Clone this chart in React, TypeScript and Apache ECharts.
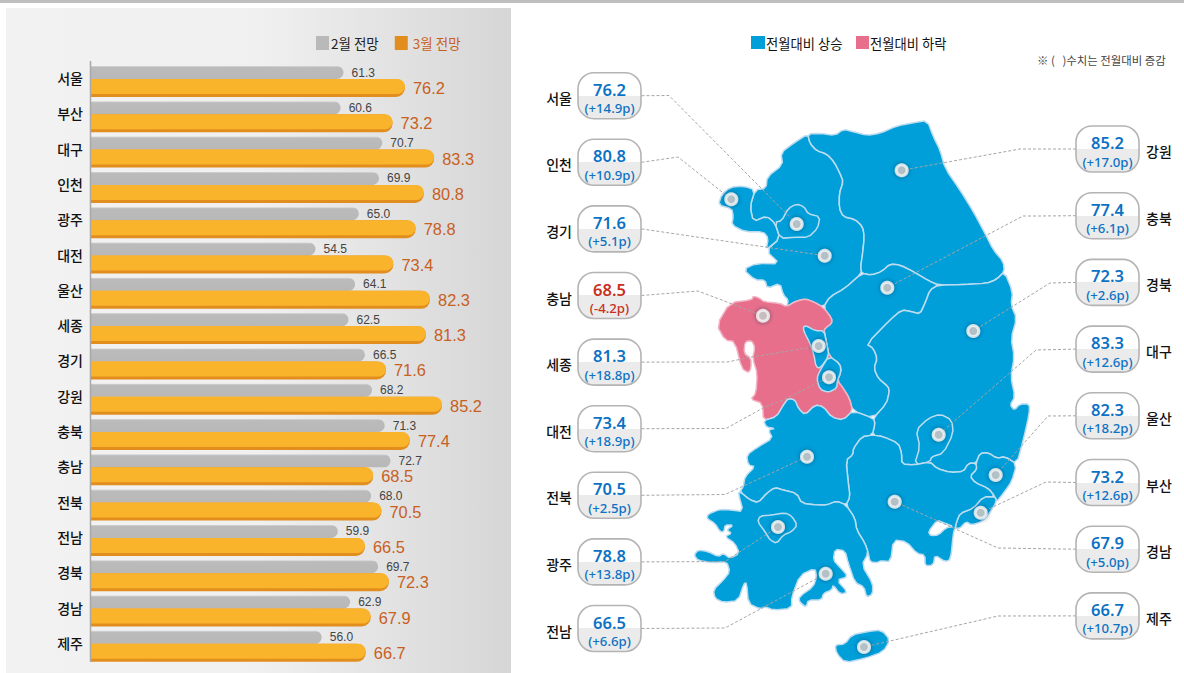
import React, { useEffect, useRef } from "react";
import * as echarts from "echarts";

// ---------- bar chart data ----------
const barRegions = ["서울","부산","대구","인천","광주","대전","울산","세종","경기","강원","충북","충남","전북","전남","경북","경남","제주"];
const febValues = [61.3,60.6,70.7,69.9,65.0,54.5,64.1,62.5,66.5,68.2,71.3,72.7,68.0,59.9,69.7,62.9,56.0];
const marValues = [76.2,73.2,83.3,80.8,78.8,73.4,82.3,81.3,71.6,85.2,77.4,68.5,70.5,66.5,72.3,67.9,66.7];

// ---------- map callout data ----------
const leftNames = ["서울","인천","경기","충남","세종","대전","전북","광주","전남"];
const leftValues = [76.2,80.8,71.6,68.5,81.3,73.4,70.5,78.8,66.5];
const leftChanges = [14.9,10.9,5.1,-4.2,18.8,18.9,2.5,13.8,6.6];
const rightNames = ["강원","충북","경북","대구","울산","부산","경남","제주"];
const rightValues = [85.2,77.4,72.3,83.3,82.3,73.2,67.9,66.7];
const rightChanges = [17.0,6.1,2.6,12.6,18.2,12.6,5.0,10.7];

// map pin locations, in the map's own coordinates
const pins: Record<string, number[]> = {
  서울:[796.7,224], 인천:[731.3,199.3], 경기:[824.7,255.7], 강원:[901.7,170.3], 충북:[887.3,287.7],
  충남:[763,315.7], 세종:[818.7,346], 대전:[829,377.3], 경북:[973.3,331], 대구:[938.7,434.7],
  울산:[995.7,475], 부산:[980.7,512.7], 경남:[894.7,501.7], 전북:[807,456.7], 광주:[778,527],
  전남:[825.7,573.7], 제주:[864,647],
};

const leftElbows: Record<string, number[][]> = {
  서울:[[669,95.5]], 인천:[[678,157]], 경기:[], 충남:[[698,291]], 세종:[[727,362],[752,357]],
  대전:[[726,428.5],[763,408],[783,400]], 전북:[[725,494.5]], 광주:[[725,561.5]], 전남:[[725,628]],
};
const rightElbows: Record<string, number[][]> = {
  강원:[[1038,149],[1020,149]], 충북:[[1040,216],[1023,216]], 경북:[[1050,283]], 대구:[[1036,350]],
  울산:[[1048,416]], 부산:[[1046,482]], 경남:[[998,548]], 제주:[[998,616]],
};

// ---------- map outlines (traced, in 3x units around the map's corner) ----------
type P = number[];
const rev = (s: P[]) => [...s].reverse();
const segA_B: P[] = [[383,72],[420,70],[465,76],[490,58],[520,65],[560,76],[600,70],[650,48],[700,38],[742,32],[760,80],[780,120],[795,175],[840,240],[880,305],[915,370],[940,420],[970,455],[973,485]];
const segA_C: P[] = [[383,72],[390,100],[410,122],[440,132],[462,155],[480,190],[490,215],[478,250],[478,295],[490,320],[525,328],[548,350],[553,380],[548,430],[542,470],[545,490]];
const segC_D: P[] = [[545,490],[575,495],[605,485],[630,462],[660,465],[700,485],[745,512],[775,525]];
const segD_B: P[] = [[775,525],[850,524],[920,520],[950,508],[973,485]];
const segD_F: P[] = [[775,525],[750,540],[735,580],[720,612],[695,605],[665,600],[630,630],[560,702],[580,715],[592,745],[582,775],[595,805],[625,830],[628,845],[620,880],[580,925]];
const segF_G: P[] = [[580,925],[585,940],[577,975]];
const segG_H: P[] = [[577,975],[610,980],[655,1000],[665,1030],[665,1062]];
const segH_K: P[] = [[665,1062],[703,1065],[750,1055]];
const segK_U: P[] = [[750,1055],[770,1075],[810,1087],[850,1085],[865,1060],[888,1060]];
const segU_Uc: P[] = [[888,1060],[900,1030],[925,1028],[950,1045],[975,1040],[1010,1062]];
const segB_Uc: P[] = [[973,485],[998,545],[993,585],[1010,625],[993,685],[1003,740],[992,800],[1005,860],[990,885],[1003,900],[1020,882],[1048,882],[1048,910],[1030,990],[1010,1062]];
const segU_Ub: P[] = [[888,1060],[890,1078],[870,1098],[885,1118],[925,1135],[945,1160]];
const segUc_Ub: P[] = [[1010,1062],[995,1115],[970,1150],[950,1175],[945,1160]];
const segBusanIn: P[] = [[945,1160],[910,1160],[880,1195],[840,1210],[830,1235],[825,1255]];
const segBusanOut: P[] = [[945,1160],[950,1175],[925,1215],[905,1235],[875,1245],[858,1235],[840,1255],[825,1255]];
const segSouth: P[] = [[825,1255],[820,1270],[812,1348],[795,1355],[765,1335],[760,1365],[735,1368],[735,1335],[710,1330],[680,1295],[640,1290],[632,1355],[605,1352],[590,1358],[570,1355],[565,1330]];
const holeBay: P[] = [[772,1230],[745,1265],[752,1277],[775,1275],[800,1252],[820,1250],[795,1240]];
const segG_J: P[] = [[577,975],[545,980],[520,1015],[518,1035],[498,1050],[505,1120],[510,1160],[498,1185]];
const segJ_L: P[] = [[498,1185],[525,1225],[530,1260],[555,1300],[565,1330]];
const segN: P[] = [[250,932],[290,920],[310,885],[325,865],[345,870],[355,895],[375,915],[405,885],[430,890],[455,922],[490,930],[518,902]];
const segFlink: P[] = [[518,902],[580,925]];
const segJ_W: P[] = [[498,1185],[470,1173],[440,1185],[415,1185],[365,1180],[350,1150],[310,1140],[285,1132],[260,1150],[235,1178],[210,1170],[180,1145]];
const segW_coast: P[] = [[180,1145],[190,1130],[195,1100],[225,1070],[205,1065],[200,1035],[235,1010],[278,985],[265,960],[285,955],[260,952],[250,932]];
const segJeonnamCoast: P[] = [[565,1330],[545,1365],[578,1420],[578,1452],[560,1462],[552,1430],[525,1418],[505,1360],[495,1322],[465,1318],[460,1350],[478,1370],[505,1400],[470,1410],[503,1447],[480,1452],[460,1425],[455,1440],[430,1450],[425,1470],[385,1470],[378,1492],[358,1475],[358,1460],[400,1430],[410,1400],[405,1375],[360,1395],[335,1460],[335,1495],[280,1500],[255,1490],[240,1497],[205,1480],[200,1420],[192,1420],[175,1472],[130,1477],[105,1465],[100,1440],[130,1410],[150,1385],[140,1355],[100,1358],[55,1352],[42,1335],[55,1320],[85,1325],[115,1340],[130,1330],[150,1345],[178,1330],[165,1300],[135,1280],[155,1270],[140,1260],[160,1245],[135,1245],[132,1265],[120,1265],[105,1240],[80,1225],[85,1212],[120,1198],[150,1200],[190,1205],[175,1150],[180,1145]];
const segChungnamTop: P[] = [[320,590],[345,575],[375,567],[400,575],[430,592]];
const segChungnamEast: P[] = [[430,592],[455,625],[455,640],[435,655],[432,662],[440,700],[447,738],[480,762],[483,785],[472,812],[490,835],[508,865],[518,902]];
const segChungnamWest: P[] = [[250,932],[248,880],[212,868],[228,850],[232,790],[218,745],[225,712],[215,692],[195,695],[192,730],[213,745],[213,775],[205,788],[185,775],[165,695],[135,690],[110,645],[150,578],[215,570],[220,558],[240,565],[250,575],[300,580],[320,590]];
const segGyeonggiSouth: P[] = [[545,490],[495,535],[450,560],[430,592]];
const segGyeonggiCoast: P[] = [[320,590],[325,570],[310,555],[300,520],[262,535],[255,510],[225,510],[190,478],[230,460],[300,462],[258,422],[300,385],[285,340],[260,318],[220,335],[210,290],[225,240],[258,235],[262,200],[308,165],[303,128],[340,100],[383,72]];

const regionRings: Record<string, P[][]> = {
  경기: [[...segA_C, ...segGyeonggiSouth, ...rev(segChungnamTop), ...segGyeonggiCoast]],
  인천: [[[225,240],[190,228],[150,232],[125,255],[115,285],[155,295],[160,320],[155,345],[195,365],[250,365],[265,385],[258,420],[300,385],[285,340],[260,318],[220,335],[210,290]]],
  서울: [[[285,337],[305,332],[325,295],[350,282],[372,290],[385,312],[420,320],[413,355],[385,382],[345,382],[300,385]]],
  강원: [[...segA_B, ...rev(segD_B), ...rev(segC_D), ...rev(segA_C)]],
  충북: [[...segC_D, ...segD_F, ...rev(segFlink), ...rev(segChungnamEast), ...rev(segGyeonggiSouth)]],
  충남: [[...segChungnamTop, ...segChungnamEast, ...rev(segN), ...segChungnamWest]],
  세종: [[[370,650],[380,648],[405,662],[432,662],[440,700],[447,738],[420,775],[408,770],[402,735],[390,700],[372,665]]],
  대전: [[[447,738],[480,762],[483,785],[472,812],[470,835],[445,847],[420,838],[410,805],[422,778]]],
  경북: [[...segD_B, ...segB_Uc, ...rev(segU_Uc), ...rev(segK_U), ...rev(segH_K), ...rev(segG_H), ...rev(segF_G), ...rev(segD_F)]],
  대구: [[[703,1065],[720,1010],[708,960],[745,925],[780,912],[815,930],[820,970],[790,1030],[755,1040],[750,1055]]],
  울산: [[...segU_Uc, ...segUc_Ub, ...rev(segU_Ub)]],
  부산: [[...segBusanOut, ...rev(segBusanIn)]],
  경남: [[...segG_H, ...segH_K, ...segK_U, ...segU_Ub, ...segBusanIn, ...segSouth, ...rev(segJ_L), ...rev(segG_J)], holeBay],
  전북: [[...segN, ...segFlink, ...segF_G, ...segG_J, ...segJ_W, ...segW_coast]],
  전남: [[...rev(segJ_W), ...segJ_L, ...segJeonnamCoast]],
  광주: [[[233,1235],[240,1218],[275,1215],[315,1208],[335,1218],[352,1245],[335,1265],[310,1275],[290,1300],[270,1290],[255,1265]]],
  제주: [[[465,1605],[495,1602],[515,1575],[560,1565],[605,1560],[630,1590],[610,1625],[555,1645],[495,1658],[470,1630]]],
};

const toMap = (p: P) => [680 + p[0] / 3, 110 + p[1] / 3];
// one pass of corner cutting, so traced outlines read as curves
const soften = (ring: P[]) => {
  const pts = ring.filter((p, i) => {
    const q = ring[(i + 1) % ring.length];
    return p[0] !== q[0] || p[1] !== q[1];
  });
  const out: P[] = [];
  pts.forEach((p, i) => {
    const q = pts[(i + 1) % pts.length];
    out.push([p[0] * 0.78 + q[0] * 0.22, p[1] * 0.78 + q[1] * 0.22]);
    out.push([p[0] * 0.22 + q[0] * 0.78, p[1] * 0.22 + q[1] * 0.78]);
  });
  return out;
};
const closeRing = (r: P[]) => { const m = soften(r).map(toMap); return [...m, m[0]]; };
const regionOrder = ["경기","인천","서울","강원","충북","충남","세종","대전","경북","대구","울산","부산","경남","전북","전남","광주","제주"];
const geoJson: any = {
  type: "FeatureCollection",
  features: regionOrder.map((name) => ({
    type: "Feature",
    properties: { name },
    geometry: { type: "Polygon", coordinates: regionRings[name].map(closeRing) },
  })),
};

const KR = '"Noto Sans CJK KR", "Noto Sans", sans-serif';
const NUM = '"Liberation Sans", Arial, sans-serif';
const BUB = '"Noto Sans", "Open Sans", sans-serif';
const BLUE = "#009fd9";
const PINK = "#e76f8b";

const fmtChange = (c: number) => `(${c >= 0 ? "+" : "-"}${Math.abs(c).toFixed(1)}p)`;

function bubble(name: string, value: number, change: number, cy: number, side: "l" | "r"): any[] {
  const bx = side === "l" ? 578 : 1076;
  const w = 63, h = 46;
  const top = cy - h / 2;
  const color = change < 0 ? "#c8301e" : "#0d72c4";
  return [
    {
      type: "rect", z: 120,
      shape: { x: bx, y: top, width: w, height: h, r: 16 },
      style: {
        fill: new echarts.graphic.LinearGradient(0, 0, 0, 1, [
          { offset: 0, color: "#ffffff" }, { offset: 0.5, color: "#ffffff" },
          { offset: 0.5, color: "#ebebeb" }, { offset: 1, color: "#ebebeb" },
        ]),
        stroke: "#b4b4b4", lineWidth: 1.6,
      },
    },
    { type: "text", z: 121, x: bx + w / 2, y: top + 16.5, style: { text: value.toFixed(1), fill: color, font: `600 16.5px ${BUB}`, align: "center", verticalAlign: "middle" } },
    { type: "text", z: 121, x: bx + w / 2, y: top + 35.5, style: { text: fmtChange(change), fill: color, font: `500 13.2px ${BUB}`, align: "center", verticalAlign: "middle" } },
    {
      type: "text", z: 121, x: side === "l" ? 572 : 1146, y: cy + 2,
      style: { text: name, fill: "#111", font: `500 14px ${KR}`, align: side === "l" ? "right" : "left", verticalAlign: "middle" },
    },
  ];
}

function leader(name: string, cy: number, side: "l" | "r"): any {
  const start = side === "l" ? [641.5, cy] : [1076, cy];
  const elbows = (side === "l" ? leftElbows : rightElbows)[name];
  return {
    type: "polyline", z: 100,
    shape: { points: [start, ...elbows, pins[name]] },
    style: { stroke: "#a6a6a6", lineWidth: 1, lineDash: [3, 2], fill: "none" },
  };
}

export default function App() {
  const ref = useRef<HTMLDivElement>(null);
  useEffect(() => {
    document.body.style.margin = "0";
    document.body.style.overflow = "hidden";
    const chart = echarts.init(ref.current!, undefined, { renderer: "svg" });
    echarts.registerMap("kr", geoJson);

    let x0 = Infinity, y0 = Infinity, x1 = -Infinity, y1 = -Infinity;
    geoJson.features.forEach((f: any) => f.geometry.coordinates.forEach((r: number[][]) => r.forEach(([x, y]) => {
      x0 = Math.min(x0, x); x1 = Math.max(x1, x); y0 = Math.min(y0, y); y1 = Math.max(y1, y);
    })));

    const allNames = [...leftNames, ...rightNames];
    const allValues = [...leftValues, ...rightValues];
    const allChanges = [...leftChanges, ...rightChanges];
    const pinData = allNames.map((n) => ({ name: n, value: pins[n] }));

    const graphics: any[] = [
      { type: "rect", z: -2, shape: { x: 0, y: 0, width: 1184, height: 3 }, style: { fill: "#bfbfbf" } },
      {
        type: "rect", z: -2, shape: { x: 6, y: 8, width: 505, height: 665 },
        style: {
          fill: new echarts.graphic.LinearGradient(0, 0, 1, 0, [
            { offset: 0, color: "#f2f2f2" }, { offset: 0.5, color: "#f0f0f0" }, { offset: 1, color: "#d6d6d6" },
          ]),
        },
      },
      { type: "line", z: 50, shape: { x1: 90.5, y1: 61, x2: 90.5, y2: 662 }, style: { stroke: "#a8a8a8", lineWidth: 1.5 } },
      // map legend
      { type: "rect", z: 50, shape: { x: 751, y: 36, width: 14, height: 13 }, style: { fill: BLUE } },
      { type: "text", z: 50, x: 766, y: 43, style: { text: "전월대비 상승", fill: "#111", font: `13.3px ${KR}`, align: "left", verticalAlign: "middle" } },
      { type: "rect", z: 50, shape: { x: 856, y: 36, width: 13, height: 13 }, style: { fill: PINK } },
      { type: "text", z: 50, x: 870, y: 43, style: { text: "전월대비 하락", fill: "#111", font: `13.3px ${KR}`, align: "left", verticalAlign: "middle" } },
      { type: "text", z: 50, x: 1037, y: 60, style: { text: "※ (   )수치는 전월대비 증감", fill: "#444", font: `11.4px ${KR}`, align: "left", verticalAlign: "middle" } },
    ];
    leftNames.forEach((n, i) => {
      const cy = 95.7 + i * 66.6;
      graphics.push(leader(n, cy, "l"), ...bubble(n, leftValues[i], leftChanges[i], cy, "l"));
    });
    rightNames.forEach((n, i) => {
      const cy = 149 + i * 66.7;
      graphics.push(leader(n, cy, "r"), ...bubble(n, rightValues[i], rightChanges[i], cy, "r"));
    });

    chart.setOption({
      animation: false,
      backgroundColor: "#ffffff",
      graphic: graphics,
      legend: {
        left: 316, top: 36, padding: 0, itemWidth: 13, itemHeight: 14, itemGap: 16, selectedMode: false, icon: "rect",
        textStyle: { fontFamily: KR, fontSize: 13.5 },
        data: [
          { name: "2월 전망", itemStyle: { color: "#b9b9b9" }, textStyle: { color: "#222", padding: [0, 0, 0, -3] } },
          { name: "3월 전망", itemStyle: { color: "#e28e1e" }, textStyle: { color: "#c8601e", padding: [0, 0, 0, 0] } },
        ],
      },
      grid: { left: 91, top: 63.85, width: 412, height: 600.1, containLabel: false },
      xAxis: { type: "value", min: 0, max: 100, show: false },
      yAxis: {
        type: "category", inverse: true, data: barRegions,
        axisLine: { show: false }, axisTick: { show: false },
        axisLabel: { color: "#111", fontFamily: KR, fontSize: 14, fontWeight: 500, margin: 8, verticalAlign: "bottom", lineHeight: 7 },
      },
      geo: {
        map: "kr", roam: false, silent: true,
        left: x0, top: y0, width: x1 - x0, height: y1 - y0,
        projection: { project: (p: number[]) => p, unproject: (p: number[]) => p },
        label: { show: false },
        itemStyle: { areaColor: BLUE, borderColor: "#bcdcf0", borderWidth: 1.5 },
        emphasis: { disabled: true },
        regions: allNames.map((n, i) => ({
          name: n,
          itemStyle: allChanges[i] < 0
            ? { areaColor: PINK, borderColor: "#f3b5c5", borderWidth: 1.5 }
            : { areaColor: BLUE, borderColor: "#bcdcf0", borderWidth: 1.5 },
        })),
      },
      series: [
        {
          name: "2월 전망", type: "bar", data: febValues, barWidth: 13, barGap: "0%",
          itemStyle: {
            borderRadius: [0, 6.5, 6.5, 0],
            color: new echarts.graphic.LinearGradient(0, 0, 0, 1, [
              { offset: 0, color: "#d8d8d8" }, { offset: 0.12, color: "#bbbbbb" }, { offset: 1, color: "#b8b8b8" },
            ]),
          },
          label: { show: true, position: "right", distance: 8, formatter: (p: any) => p.value.toFixed(1), color: "#444", fontFamily: NUM, fontSize: 12 },
        },
        {
          name: "3월 전망", type: "bar", data: marValues, barWidth: 18, barGap: "0%",
          itemStyle: { borderRadius: [0, 9, 9, 0], color: "#e28e1e" },
          label: { show: true, position: "right", distance: 8, formatter: (p: any) => p.value.toFixed(1), color: "#c8601e", fontFamily: NUM, fontSize: 16.4 },
        },
        {
          name: "3월 전망 윗면", type: "custom", silent: true, z: 6, coordinateSystem: "cartesian2d",
          data: marValues.map((v, i) => [v, i]),
          encode: { x: 0, y: 1 },
          renderItem: (_: any, api: any) => {
            const end = api.coord([api.value(0), api.value(1)]);
            const start = api.coord([0, api.value(1)]);
            return {
              type: "rect", z2: 10,
              shape: { x: start[0], y: end[1] - 2.5, width: end[0] - start[0], height: 15, r: [0, 7.5, 7.5, 0] },
              style: { fill: "#f9b42c" },
            };
          },
        },
        {
          name: "전월대비", type: "map", geoIndex: 0,
          data: allNames.map((n, i) => ({ name: n, value: allValues[i] })),
        },
        {
          name: "지역", type: "scatter", coordinateSystem: "geo", silent: true, z: 150, symbolSize: 11, data: pinData,
          itemStyle: { color: "#d0d0d0", borderColor: "#f6f6f6", borderWidth: 3, shadowBlur: 4, shadowColor: "rgba(0,50,90,0.7)" },
        },
      ],
    });
    return () => chart.dispose();
  }, []);
  return <div ref={ref} style={{ position: "absolute", left: 0, top: 0, width: 1184, height: 673 }} />;
}
